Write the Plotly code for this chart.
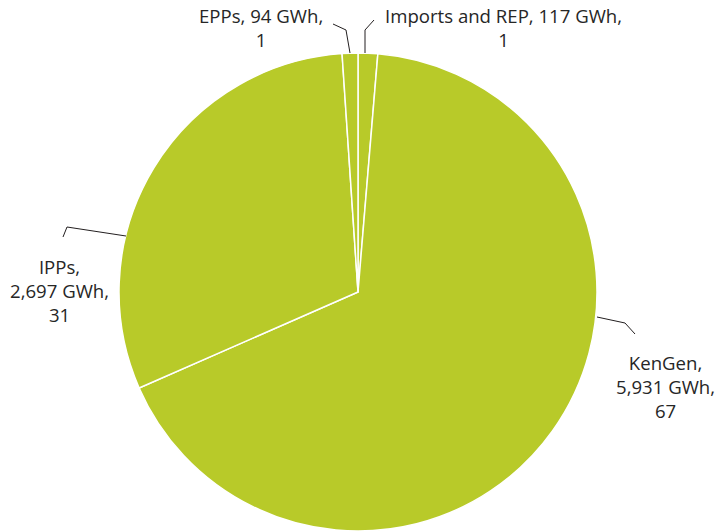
import plotly.graph_objects as go

# Data
categories = ["Imports and REP", "KenGen", "IPPs", "EPPs"]
energy_gwh = [117, 5931, 2697, 94]
share_pct = [1, 67, 31, 1]

W, H = 719, 531

# Label layout (pixel positions of label block centres and leader polylines)
label_pos = {
    "Imports and REP": (503, 28),
    "KenGen": (665, 386),
    "IPPs": (59, 291),
    "EPPs": (261, 28),
}
leaders = {
    "Imports and REP": [(374, 20), (365, 30), (365, 53)],
    "KenGen": [(597, 317), (625, 323), (635, 334)],
    "IPPs": [(63, 237), (67, 227), (126, 236)],
    "EPPs": [(333, 24), (346, 30), (350, 53)],
}
label_breaks = {
    "Imports and REP": "{c}, {v} GWh,<br>{p}",
    "KenGen": "{c},<br>{v} GWh,<br>{p}",
    "IPPs": "{c},<br>{v} GWh,<br>{p}",
    "EPPs": "{c}, {v} GWh,<br>{p}",
}

def px(x):
    return x / W

def py(y):
    return 1 - y / H

fig = go.Figure(
    go.Pie(
        labels=categories,
        values=energy_gwh,
        sort=False,
        direction="clockwise",
        rotation=0,
        textinfo="none",
        hoverinfo="label+value+percent",
        marker=dict(colors=["#B8CA29"] * len(categories),
                    line=dict(color="white", width=1.5)),
        domain=dict(x=[0, 716 / W], y=[0, 478 / H]),
        showlegend=False,
    )
)

annotations = []
shapes = []
for c, v, p in zip(categories, energy_gwh, share_pct):
    x, y = label_pos[c]
    text = label_breaks[c].format(c=c, v=f"{v:,}", p=p)
    annotations.append(dict(
        x=px(x), y=py(y), xref="paper", yref="paper",
        text=text, showarrow=False, xanchor="center", yanchor="middle",
        align="center",
        font=dict(family="Open Sans", size=18.6, color="#262626"),
    ))
    pts = leaders[c]
    path = "M " + " L ".join(f"{px(a)},{py(b)}" for a, b in pts)
    shapes.append(dict(type="path", path=path, xref="paper", yref="paper",
                       line=dict(color="#231F20", width=1)))

fig.update_layout(
    width=W, height=H,
    margin=dict(l=0, r=0, t=0, b=0),
    paper_bgcolor="white",
    plot_bgcolor="white",
    annotations=annotations,
    shapes=shapes,
)

fig.write_html(
    "out.html",
    config={"displayModeBar": False},
    post_script="document.body.style.margin='0';document.body.style.overflow='hidden';",
)
